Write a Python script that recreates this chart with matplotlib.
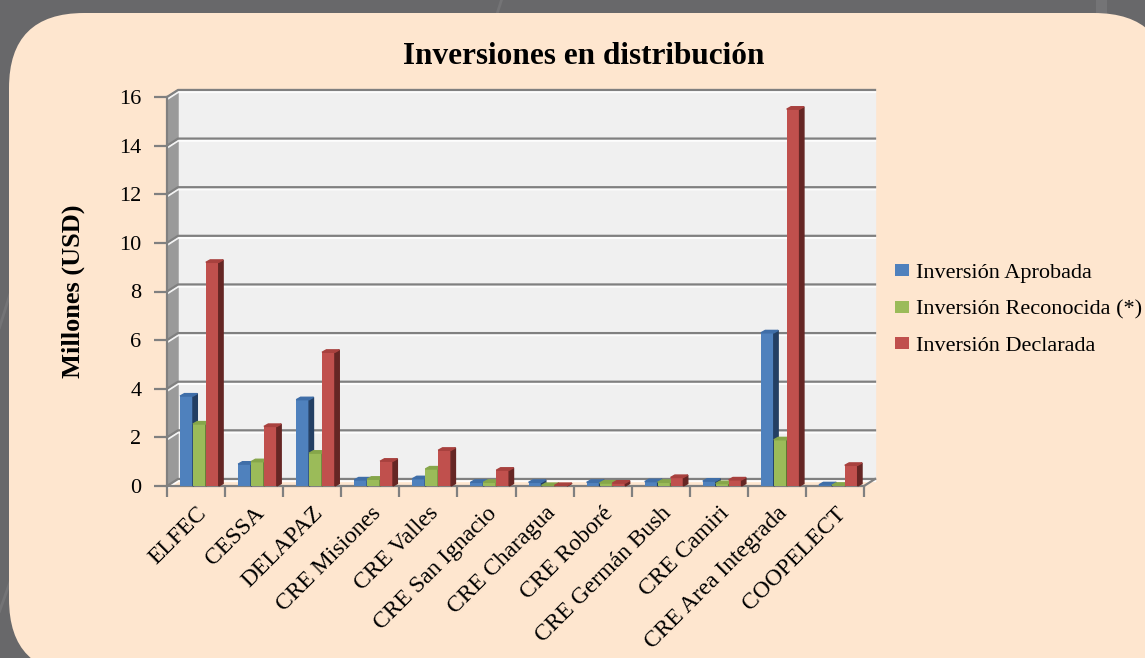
import matplotlib
matplotlib.use('Agg')
import matplotlib.pyplot as plt
from matplotlib.patches import FancyBboxPatch, Patch
import matplotlib.patheffects as pe
import numpy as np

plt.rcParams['font.family'] = ['Liberation Serif', 'DejaVu Serif']

# data (millones USD)
categorias = ['ELFEC', 'CESSA', 'DELAPAZ', 'CRE Misiones', 'CRE Valles', 'CRE San Ignacio',
              'CRE Charagua', 'CRE Roboré', 'CRE Germán Bush', 'CRE Camiri',
              'CRE Area Integrada', 'COOPELECT']
aprobada = [3.7, 0.9, 3.55, 0.25, 0.3, 0.15, 0.15, 0.15, 0.18, 0.2, 6.3, 0.05]
reconocida = [2.55, 1.0, 1.35, 0.28, 0.7, 0.15, 0.02, 0.12, 0.15, 0.1, 1.9, 0.03]
declarada = [9.2, 2.45, 5.5, 1.02, 1.47, 0.65, 0.02, 0.12, 0.35, 0.25, 15.5, 0.85]
series = ['Inversión Aprobada', 'Inversión Reconocida (*)', 'Inversión Declarada']
y_ticks = [0, 2, 4, 6, 8, 10, 12, 14, 16]

front_colors = ['#4f81bd', '#9bbb59', '#c0504d']
side_colors = ['#233f63', '#5f7833', '#652624']
top_colors = ['#3f6ea8', '#86a64a', '#a8413e']

W, H = 1145, 658
fig = plt.figure(figsize=(W / 100, H / 100), dpi=100)
fig.patch.set_facecolor('#68686a')

# background panel
bg = fig.add_axes([0, 0, 1, 1])
bg.set_xlim(0, W)
bg.set_ylim(0, H)
bg.axis('off')
for xs, ys, lw in [([515, 470], [700, 560], 2), ([1101, 1101], [700, 560], 8),
                   ([-10, 40], [300, 460], 2), ([-10, 40], [20, 160], 2)]:
    bg.plot(xs, ys, color='#747476', lw=lw, solid_capstyle='butt', zorder=0)
bg.add_patch(FancyBboxPatch((9, -16), 1160, 661, boxstyle='round,pad=0,rounding_size=75',
                            fc='#fee6cf', ec='none', zorder=1))

# chart axes (front plane)
n = len(categorias)
ax = fig.add_axes([167 / W, (H - 486) / H, (864 - 167) / W, (486 - 97) / H])
ax.set_xlim(0, n)
ax.set_ylim(0, 16)
ax.patch.set_visible(False)

dx, dy = 0.19, 0.29      # depth of the walls
bdx, bdy = 0.075, 0.1    # depth of the bars

# walls
ax.fill([dx, n + dx, n + dx, dx], [dy, dy, 16 + dy, 16 + dy], color='#f0f0f0', clip_on=False, zorder=0)
ax.fill([0, dx, dx, 0], [0, dy, 16 + dy, 16], color='#9a9a9a', clip_on=False, zorder=0.5)

shadow = [pe.SimpleLineShadow(offset=(0, -1.5), shadow_color='white', alpha=0.9), pe.Normal()]
for yv in y_ticks:
    ax.plot([0, dx, n + dx], [yv, yv + dy, yv + dy], color='#808080', lw=1.6,
            clip_on=False, zorder=1, path_effects=shadow)
ax.plot([n, n + dx], [0, dy], color='#808080', lw=1.6, clip_on=False, zorder=1)

# 3D looking bars
bw = 0.222
x0 = np.arange(n) + 0.225
for k, vals in enumerate([aprobada, reconocida, declarada]):
    xl = x0 + k * bw
    ax.bar(xl, vals, width=bw, align='edge', color=front_colors[k], zorder=3 + k, clip_on=False)
    for x, h in zip(xl, vals):
        ax.fill([x + bw, x + bw + bdx, x + bw + bdx, x + bw], [0, bdy, h + bdy, h],
                color=side_colors[k], zorder=3 + k, clip_on=False)
        ax.fill([x, x + bdx, x + bw + bdx, x + bw], [h, h + bdy, h + bdy, h],
                color=top_colors[k], zorder=3 + k, clip_on=False)

# axes
for s in ['top', 'right']:
    ax.spines[s].set_visible(False)
for s in ['left', 'bottom']:
    ax.spines[s].set_color('#808080')
    ax.spines[s].set_linewidth(1.6)
    ax.spines[s].set_zorder(2)
ax.set_yticks(y_ticks)
ax.tick_params(axis='y', length=9.5, width=1.6, color='#808080', pad=9, labelsize=16)
ax.set_xticks(np.arange(n) + 0.5)
ax.set_xticklabels(categorias, rotation=45, ha='right', rotation_mode='anchor', fontsize=17)
ax.set_xticks(np.arange(n + 1), minor=True)
ax.tick_params(axis='x', which='major', length=0, pad=12)
ax.tick_params(axis='x', which='minor', length=8, width=1.6, color='#808080')

fig.text(584 / W, (H - 57) / H, 'Inversiones en distribución', ha='center', va='center',
         fontsize=22.5, weight='bold')
fig.text(73 / W, (H - 291) / H, 'Millones (USD)', ha='center', va='center', rotation=90,
         fontsize=19, weight='bold')

handles = [Patch(fc=c, ec='none') for c in front_colors]
ax.legend(handles, series, loc='upper left', bbox_to_anchor=(895 / W, (H - 264) / H),
          bbox_transform=fig.transFigure, frameon=False, fontsize=16, handlelength=0.65,
          handleheight=0.45, handletextpad=0.3, labelspacing=0.78, borderpad=0, borderaxespad=0)

fig.savefig('out.png', dpi=100, facecolor=fig.get_facecolor())
